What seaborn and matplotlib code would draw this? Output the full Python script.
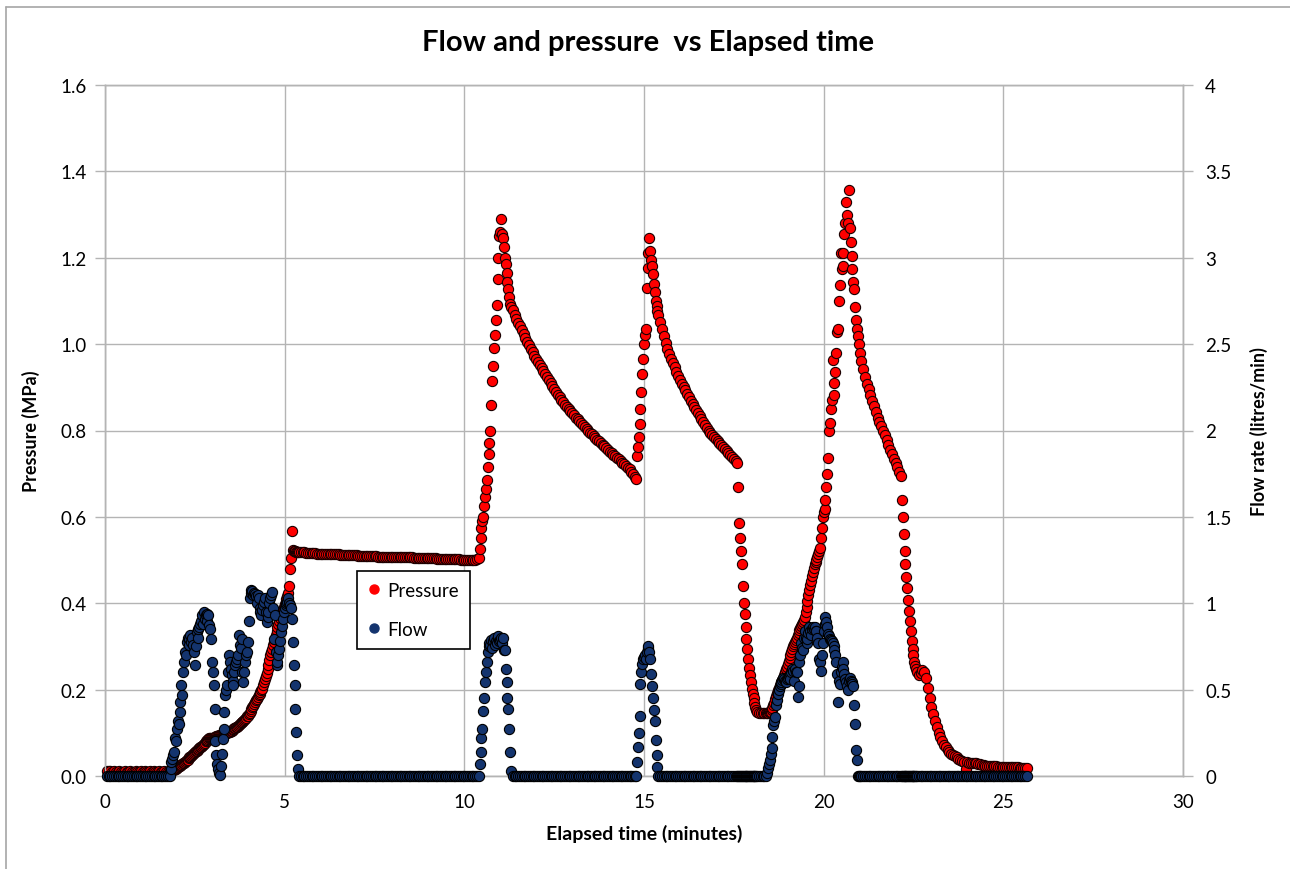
import matplotlib
matplotlib.use("Agg")
import pandas as pd
import matplotlib.pyplot as plt
import seaborn as sns
from matplotlib.lines import Line2D

# Elapsed time (minutes) - shared by both series
time_min = [
    0.05, 0.1, 0.15, 0.2, 0.25, 0.3, 0.35, 0.4, 0.45, 0.5, 0.55, 0.6, 0.65, 0.7, 0.75, 0.8, 0.85, 0.9, 0.95, 1.0,
    1.05, 1.1, 1.15, 1.2, 1.25, 1.3, 1.35, 1.4, 1.45, 1.5, 1.55, 1.6, 1.65, 1.7, 1.75, 1.8,
    1.825, 1.85, 1.875, 1.9, 1.925, 1.95, 1.975, 2.0,
    2.025, 2.05, 2.075, 2.1, 2.125, 2.15, 2.175, 2.2,
    2.225, 2.25, 2.275, 2.3, 2.325, 2.35, 2.375, 2.4,
    2.425, 2.45, 2.475, 2.5, 2.525, 2.55, 2.575, 2.6,
    2.625, 2.65, 2.675, 2.7, 2.725, 2.75, 2.775, 2.8,
    2.825, 2.85, 2.875, 2.9, 2.925, 2.95, 2.975, 3.0,
    3.025, 3.05, 3.075, 3.1, 3.125, 3.15, 3.175, 3.2,
    3.225, 3.25, 3.275, 3.3, 3.325, 3.35, 3.375, 3.4,
    3.425, 3.45, 3.475, 3.5, 3.525, 3.55, 3.575, 3.6,
    3.625, 3.65, 3.675, 3.7, 3.725, 3.75, 3.775, 3.8,
    3.825, 3.85, 3.875, 3.9, 3.925, 3.95, 3.975, 4.0,
    4.025, 4.05, 4.075, 4.1, 4.125, 4.15, 4.175, 4.2,
    4.225, 4.25, 4.275, 4.3, 4.325, 4.35, 4.375, 4.4,
    4.425, 4.45, 4.475, 4.5, 4.525, 4.55, 4.575, 4.6,
    4.625, 4.65, 4.675, 4.7, 4.725, 4.75, 4.775, 4.8,
    4.825, 4.85, 4.875, 4.9, 4.925, 4.95, 4.975, 5.0,
    5.025, 5.05, 5.075, 5.1, 5.125, 5.15, 5.175, 5.2,
    5.225, 5.25, 5.275, 5.3, 5.325, 5.35, 5.375, 5.4,
    5.45, 5.5, 5.55, 5.6, 5.65, 5.7, 5.75, 5.8, 5.85, 5.9, 5.95,
    6.0, 6.05, 6.1, 6.15, 6.2, 6.25, 6.3, 6.35, 6.4, 6.45, 6.5, 6.55, 6.6, 6.65, 6.7, 6.75, 6.8, 6.85, 6.9, 6.95,
    7.0, 7.05, 7.1, 7.15, 7.2, 7.25, 7.3, 7.35, 7.4, 7.45, 7.5, 7.55, 7.6, 7.65, 7.7, 7.75, 7.8, 7.85, 7.9, 7.95,
    8.0, 8.05, 8.1, 8.15, 8.2, 8.25, 8.3, 8.35, 8.4, 8.45, 8.5, 8.55, 8.6, 8.65, 8.7, 8.75, 8.8, 8.85, 8.9, 8.95,
    9.0, 9.05, 9.1, 9.15, 9.2, 9.25, 9.3, 9.35, 9.4, 9.45, 9.5, 9.55, 9.6, 9.65, 9.7, 9.75, 9.8, 9.85, 9.9, 9.95,
    10.0, 10.05, 10.1, 10.15, 10.2, 10.25, 10.3, 10.35, 10.4,
    10.425, 10.45, 10.475, 10.5, 10.525, 10.55, 10.575, 10.6,
    10.625, 10.65, 10.675, 10.7, 10.725, 10.75, 10.775, 10.8,
    10.825, 10.85, 10.875, 10.9, 10.925, 10.95, 10.975, 11.0,
    11.025, 11.05, 11.075, 11.1, 11.125, 11.15, 11.175, 11.2,
    11.225, 11.25, 11.275, 11.3,
    11.35, 11.4, 11.45, 11.5, 11.55, 11.6, 11.65, 11.7, 11.75, 11.8, 11.85, 11.9, 11.95, 12.0,
    12.05, 12.1, 12.15, 12.2, 12.25, 12.3, 12.35, 12.4, 12.45, 12.5, 12.55, 12.6, 12.65, 12.7, 12.75, 12.8, 12.85, 12.9, 12.95, 13.0,
    13.05, 13.1, 13.15, 13.2, 13.25, 13.3, 13.35, 13.4, 13.45, 13.5, 13.55, 13.6, 13.65, 13.7, 13.75, 13.8, 13.85, 13.9, 13.95, 14.0,
    14.05, 14.1, 14.15, 14.2, 14.25, 14.3, 14.35, 14.4, 14.45, 14.5, 14.55, 14.6, 14.65, 14.7, 14.75,
    14.775, 14.8, 14.825, 14.85, 14.875, 14.9, 14.925, 14.95,
    14.975, 15.0, 15.025, 15.05, 15.075, 15.1, 15.125, 15.15,
    15.175, 15.2, 15.225, 15.25, 15.275, 15.3, 15.325, 15.35,
    15.375, 15.4,
    15.45, 15.5, 15.55, 15.6, 15.65, 15.7, 15.75, 15.8, 15.85, 15.9, 15.95, 16.0,
    16.05, 16.1, 16.15, 16.2, 16.25, 16.3, 16.35, 16.4, 16.45, 16.5, 16.55, 16.6, 16.65, 16.7, 16.75, 16.8, 16.85, 16.9, 16.95, 17.0,
    17.05, 17.1, 17.15, 17.2, 17.25, 17.3, 17.35, 17.4, 17.45, 17.5, 17.55, 17.6,
    17.625, 17.65, 17.675, 17.7, 17.725, 17.75, 17.775, 17.8,
    17.825, 17.85, 17.875, 17.9, 17.925, 17.95, 17.975, 18.0,
    18.025, 18.05, 18.075, 18.1, 18.125, 18.15,
    18.2, 18.25, 18.3, 18.35, 18.4,
    18.425, 18.45, 18.475, 18.5, 18.525, 18.55, 18.575, 18.6,
    18.625, 18.65, 18.675, 18.7, 18.725, 18.75, 18.775, 18.8,
    18.825, 18.85, 18.875, 18.9, 18.925, 18.95, 18.975, 19.0,
    19.025, 19.05, 19.075, 19.1, 19.125, 19.15, 19.175, 19.2,
    19.225, 19.25, 19.275, 19.3, 19.325, 19.35, 19.375, 19.4,
    19.425, 19.45, 19.475, 19.5, 19.525, 19.55, 19.575, 19.6,
    19.625, 19.65, 19.675, 19.7, 19.725, 19.75, 19.775, 19.8,
    19.825, 19.85, 19.875, 19.9, 19.925, 19.95, 19.975, 20.0,
    20.025, 20.05, 20.075, 20.1, 20.125, 20.15, 20.175, 20.2,
    20.225, 20.25, 20.275, 20.3, 20.325, 20.35, 20.375, 20.4,
    20.425, 20.45, 20.475, 20.5, 20.525, 20.55, 20.575, 20.6,
    20.625, 20.65, 20.675, 20.7, 20.725, 20.75, 20.775, 20.8,
    20.825, 20.85, 20.875, 20.9, 20.925, 20.95, 20.975, 21.0,
    21.05, 21.1, 21.15, 21.2, 21.25, 21.3, 21.35, 21.4, 21.45, 21.5, 21.55, 21.6, 21.65, 21.7, 21.75, 21.8, 21.85, 21.9, 21.95, 22.0,
    22.05, 22.1, 22.15,
    22.175, 22.2, 22.225, 22.25, 22.275, 22.3, 22.325, 22.35,
    22.375, 22.4, 22.425, 22.45, 22.475, 22.5, 22.525, 22.55,
    22.575, 22.6,
    22.65, 22.7, 22.75, 22.8, 22.85, 22.9, 22.95, 23.0,
    23.05, 23.1, 23.15, 23.2, 23.25, 23.3, 23.35, 23.4, 23.45, 23.5, 23.55, 23.6, 23.65, 23.7, 23.75, 23.8, 23.85, 23.9, 23.95, 24.0,
    24.05, 24.1, 24.15, 24.2, 24.25, 24.3, 24.35, 24.4, 24.45, 24.5, 24.55, 24.6, 24.65, 24.7, 24.75, 24.8, 24.85, 24.9, 24.95, 25.0,
    25.05, 25.1, 25.15, 25.2, 25.25, 25.3, 25.35, 25.4, 25.45, 25.5, 25.55, 25.6, 25.65,
]

# Pressure (MPa), left axis
pressure_mpa = [
    0.012, 0.011, 0.011, 0.010, 0.011, 0.010, 0.010, 0.011, 0.010, 0.010, 0.011, 0.010, 0.010, 0.011, 0.010, 0.010, 0.011, 0.010, 0.010, 0.011,
    0.010, 0.011, 0.010, 0.010, 0.011, 0.010, 0.011, 0.010, 0.010, 0.011, 0.010, 0.010, 0.011, 0.010, 0.010, 0.011,
    0.011, 0.012, 0.013, 0.014, 0.015, 0.016, 0.017, 0.019,
    0.020, 0.022, 0.023, 0.025, 0.026, 0.028, 0.029, 0.031,
    0.032, 0.034, 0.036, 0.038, 0.041, 0.043, 0.045, 0.047,
    0.049, 0.051, 0.053, 0.055, 0.057, 0.059, 0.061, 0.063,
    0.065, 0.067, 0.068, 0.070, 0.072, 0.075, 0.077, 0.080,
    0.082, 0.084, 0.086, 0.087, 0.087, 0.088, 0.088, 0.089,
    0.089, 0.090, 0.091, 0.092, 0.092, 0.093, 0.094, 0.095,
    0.095, 0.096, 0.096, 0.097, 0.097, 0.098, 0.099, 0.100,
    0.101, 0.102, 0.103, 0.104, 0.105, 0.107, 0.108, 0.110,
    0.111, 0.113, 0.114, 0.116, 0.118, 0.120, 0.122, 0.124,
    0.126, 0.128, 0.130, 0.133, 0.135, 0.138, 0.140, 0.144,
    0.147, 0.151, 0.155, 0.159, 0.163, 0.167, 0.171, 0.175,
    0.179, 0.183, 0.187, 0.190, 0.194, 0.198, 0.202, 0.210,
    0.217, 0.224, 0.231, 0.238, 0.248, 0.258, 0.268, 0.280,
    0.288, 0.295, 0.303, 0.310, 0.317, 0.326, 0.335, 0.345,
    0.352, 0.360, 0.366, 0.372, 0.379, 0.385, 0.392, 0.398,
    0.404, 0.410, 0.416, 0.423, 0.440, 0.480, 0.505, 0.567,
    0.523, 0.521, 0.520, 0.520, 0.519, 0.519, 0.519, 0.519,
    0.518, 0.518, 0.518, 0.517, 0.517, 0.517, 0.516, 0.516, 0.516, 0.515, 0.515,
    0.515, 0.515, 0.514, 0.514, 0.514, 0.514, 0.513, 0.513, 0.513, 0.513, 0.513, 0.512, 0.512, 0.512, 0.512, 0.512, 0.511, 0.511, 0.511, 0.511,
    0.511, 0.510, 0.510, 0.510, 0.510, 0.510, 0.509, 0.509, 0.509, 0.509, 0.509, 0.509, 0.508, 0.508, 0.508, 0.508, 0.508, 0.508, 0.507, 0.507,
    0.507, 0.507, 0.507, 0.507, 0.507, 0.506, 0.506, 0.506, 0.506, 0.506, 0.506, 0.506, 0.505, 0.505, 0.505, 0.505, 0.505, 0.505, 0.505, 0.504,
    0.504, 0.504, 0.504, 0.504, 0.504, 0.503, 0.503, 0.503, 0.503, 0.503, 0.503, 0.502, 0.502, 0.502, 0.502, 0.502, 0.502, 0.502, 0.501, 0.501,
    0.501, 0.501, 0.501, 0.501, 0.501, 0.501, 0.501, 0.502, 0.505,
    0.525, 0.552, 0.575, 0.590, 0.600, 0.625, 0.645, 0.665,
    0.685, 0.715, 0.745, 0.770, 0.800, 0.860, 0.915, 0.950,
    0.990, 1.020, 1.055, 1.090, 1.150, 1.200, 1.250, 1.260,
    1.290, 1.255, 1.245, 1.225, 1.200, 1.185, 1.164, 1.145,
    1.127, 1.108, 1.092, 1.085,
    1.078, 1.068, 1.059, 1.050, 1.041, 1.032, 1.023, 1.015, 1.006, 0.998, 0.989, 0.981, 0.973, 0.965,
    0.958, 0.951, 0.944, 0.937, 0.930, 0.923, 0.916, 0.909, 0.902, 0.895, 0.889, 0.883, 0.877, 0.871, 0.866, 0.860, 0.855, 0.850, 0.845, 0.840,
    0.835, 0.830, 0.826, 0.821, 0.817, 0.812, 0.808, 0.803, 0.799, 0.795, 0.791, 0.787, 0.783, 0.779, 0.775, 0.771, 0.767, 0.763, 0.759, 0.755,
    0.751, 0.747, 0.744, 0.740, 0.736, 0.733, 0.729, 0.725, 0.722, 0.718, 0.714, 0.710, 0.705, 0.699, 0.692,
    0.688, 0.740, 0.762, 0.784, 0.814, 0.850, 0.890, 0.930,
    0.965, 1.000, 1.020, 1.035, 1.130, 1.176, 1.210, 1.245,
    1.215, 1.195, 1.180, 1.163, 1.140, 1.120, 1.100, 1.088,
    1.077, 1.067,
    1.052, 1.035, 1.018, 1.002, 0.988, 0.976, 0.966, 0.956, 0.946, 0.936, 0.926, 0.917,
    0.908, 0.900, 0.893, 0.885, 0.877, 0.869, 0.861, 0.854, 0.847, 0.840, 0.833, 0.826, 0.819, 0.812, 0.806, 0.800, 0.795, 0.790, 0.785, 0.780,
    0.776, 0.771, 0.767, 0.762, 0.758, 0.753, 0.748, 0.744, 0.739, 0.734, 0.729, 0.724,
    0.669, 0.586, 0.550, 0.520, 0.490, 0.440, 0.400, 0.375,
    0.345, 0.318, 0.295, 0.270, 0.250, 0.235, 0.218, 0.202,
    0.190, 0.180, 0.170, 0.160, 0.152, 0.148,
    0.147, 0.147, 0.146, 0.147, 0.147,
    0.147, 0.147, 0.148, 0.148, 0.149, 0.152, 0.158, 0.164,
    0.170, 0.178, 0.186, 0.192, 0.198, 0.204, 0.210, 0.214,
    0.218, 0.223, 0.227, 0.234, 0.240, 0.247, 0.253, 0.260,
    0.266, 0.273, 0.280, 0.287, 0.294, 0.300, 0.305, 0.310,
    0.315, 0.320, 0.326, 0.332, 0.338, 0.343, 0.348, 0.352,
    0.356, 0.362, 0.368, 0.380, 0.392, 0.405, 0.418, 0.430,
    0.442, 0.452, 0.462, 0.473, 0.482, 0.490, 0.495, 0.500,
    0.508, 0.514, 0.520, 0.527, 0.550, 0.575, 0.600, 0.612,
    0.618, 0.640, 0.670, 0.700, 0.736, 0.800, 0.818, 0.850,
    0.870, 0.964, 0.882, 0.910, 0.936, 0.980, 1.027, 1.036,
    1.100, 1.136, 1.210, 1.173, 1.180, 1.210, 1.255, 1.280,
    1.330, 1.300, 1.280, 1.356, 1.270, 1.236, 1.205, 1.173,
    1.145, 1.127, 1.086, 1.055, 1.036, 1.018, 1.000, 0.980,
    0.960, 0.943, 0.925, 0.908, 0.895, 0.882, 0.869, 0.856, 0.842, 0.830, 0.820, 0.810, 0.800, 0.789, 0.778, 0.766, 0.755, 0.745, 0.735, 0.724,
    0.715, 0.705, 0.695,
    0.640, 0.600, 0.560, 0.520, 0.490, 0.460, 0.436, 0.408,
    0.381, 0.358, 0.335, 0.312, 0.295, 0.280, 0.265, 0.255,
    0.248, 0.240,
    0.234, 0.238, 0.246, 0.240, 0.226, 0.203, 0.180, 0.160,
    0.143, 0.127, 0.113, 0.100, 0.090, 0.080, 0.072, 0.066, 0.061, 0.056, 0.052, 0.049, 0.046, 0.043, 0.040, 0.037, 0.034, 0.033, 0.017, 0.032,
    0.031, 0.030, 0.030, 0.029, 0.029, 0.028, 0.027, 0.026, 0.025, 0.024, 0.024, 0.023, 0.023, 0.022, 0.022, 0.022, 0.021, 0.021, 0.021, 0.021,
    0.021, 0.020, 0.020, 0.020, 0.020, 0.020, 0.020, 0.020, 0.019, 0.019, 0.019, 0.019, 0.019,
]

# Flow rate (litres/min), right axis
flow_lpm = [
    0, 0, 0, 0, 0, 0, 0, 0, 0, 0, 0, 0, 0, 0, 0, 0, 0, 0, 0, 0,
    0, 0, 0, 0, 0, 0, 0, 0, 0, 0, 0, 0, 0, 0, 0, 0,
    0.04, 0.08, 0.10, 0.12, 0.14, 0.22, 0.20, 0.27,
    0.32, 0.30, 0.37, 0.43, 0.525, 0.47, 0.60, 0.66,
    0.72, 0.70, 0.776, 0.80, 0.795, 0.76, 0.815, 0.776,
    0.80, 0.757, 0.72, 0.64, 0.75, 0.834, 0.80, 0.853,
    0.86, 0.882, 0.90, 0.93, 0.88, 0.95, 0.91, 0.93,
    0.94, 0.90, 0.93, 0.873, 0.85, 0.795, 0.66, 0.60,
    0.525, 0.39, 0.20, 0.12, 0.07, 0.04, 0.02, 0.004,
    0.06, 0.13, 0.216, 0.274, 0.37, 0.467, 0.50, 0.525,
    0.60, 0.70, 0.66, 0.62, 0.583, 0.55, 0.525, 0.60,
    0.64, 0.66, 0.68, 0.70, 0.815, 0.757, 0.74, 0.795,
    0.60, 0.544, 0.60, 0.66, 0.70, 0.72, 0.776, 0.90,
    1.03, 1.06, 1.075, 1.07, 1.05, 1.06, 1.056, 1.04,
    1.00, 1.05, 1.03, 0.97, 0.95, 0.93, 0.96, 0.99,
    1.01, 1.03, 0.95, 0.892, 0.92, 0.95, 1.00, 1.03,
    1.05, 1.066, 0.97, 0.795, 0.93, 0.72, 0.64, 0.66,
    0.70, 0.737, 0.78, 0.834, 0.87, 0.91, 0.95, 0.97,
    0.99, 1.00, 1.01, 1.03, 1.00, 0.99, 0.97, 0.91,
    0.776, 0.64, 0.525, 0.39, 0.255, 0.12, 0.04, 0,
    0, 0, 0, 0, 0, 0, 0, 0, 0, 0, 0,
    0, 0, 0, 0, 0, 0, 0, 0, 0, 0, 0, 0, 0, 0, 0, 0, 0, 0, 0, 0,
    0, 0, 0, 0, 0, 0, 0, 0, 0, 0, 0, 0, 0, 0, 0, 0, 0, 0, 0, 0,
    0, 0, 0, 0, 0, 0, 0, 0, 0, 0, 0, 0, 0, 0, 0, 0, 0, 0, 0, 0,
    0, 0, 0, 0, 0, 0, 0, 0, 0, 0, 0, 0, 0, 0, 0, 0, 0, 0, 0, 0,
    0, 0, 0, 0, 0, 0, 0, 0, 0,
    0.07, 0.14, 0.22, 0.27, 0.375, 0.45, 0.545, 0.60,
    0.66, 0.72, 0.75, 0.77, 0.76, 0.79, 0.74, 0.78,
    0.80, 0.76, 0.78, 0.77, 0.80, 0.81, 0.78, 0.79,
    0.80, 0.77, 0.80, 0.73, 0.73, 0.62, 0.545, 0.45,
    0.39, 0.27, 0.14, 0.03,
    0, 0, 0, 0, 0, 0, 0, 0, 0, 0, 0, 0, 0, 0,
    0, 0, 0, 0, 0, 0, 0, 0, 0, 0, 0, 0, 0, 0, 0, 0, 0, 0, 0, 0,
    0, 0, 0, 0, 0, 0, 0, 0, 0, 0, 0, 0, 0, 0, 0, 0, 0, 0, 0, 0,
    0, 0, 0, 0, 0, 0, 0, 0, 0, 0, 0, 0, 0, 0, 0,
    0, 0.08, 0.17, 0.25, 0.35, 0.53, 0.60, 0.65,
    0.68, 0.69, 0.70, 0.68, 0.72, 0.74, 0.75, 0.72,
    0.68, 0.59, 0.52, 0.45, 0.38, 0.32, 0.21, 0.12,
    0.05, 0,
    0, 0, 0, 0, 0, 0, 0, 0, 0, 0, 0, 0,
    0, 0, 0, 0, 0, 0, 0, 0, 0, 0, 0, 0, 0, 0, 0, 0, 0, 0, 0, 0,
    0, 0, 0, 0, 0, 0, 0, 0, 0, 0, 0, 0,
    0, 0, 0, 0, 0, 0, 0, 0,
    0, 0, 0, 0, 0, 0, 0, 0,
    0, 0, 0, 0, 0, 0,
    0, 0, 0, 0, 0,
    0.02, 0.045, 0.07, 0.09, 0.13, 0.16, 0.227, 0.295,
    0.32, 0.34, 0.41, 0.44, 0.477, 0.50, 0.52, 0.535,
    0.545, 0.555, 0.568, 0.56, 0.55, 0.545, 0.56, 0.57,
    0.58, 0.59, 0.56, 0.60, 0.62, 0.61, 0.55, 0.62,
    0.60, 0.60, 0.455, 0.52, 0.66, 0.70, 0.77, 0.74,
    0.727, 0.80, 0.84, 0.80, 0.77, 0.795, 0.83, 0.864,
    0.84, 0.818, 0.85, 0.864, 0.85, 0.86, 0.84, 0.84,
    0.80, 0.77, 0.68, 0.66, 0.61, 0.70, 0.77, 0.84,
    0.88, 0.92, 0.89, 0.864, 0.82, 0.81, 0.795, 0.79,
    0.78, 0.77, 0.75, 0.727, 0.70, 0.66, 0.59, 0.43,
    0.55, 0.534, 0.60, 0.63, 0.66, 0.62, 0.59, 0.56,
    0.545, 0.52, 0.50, 0.55, 0.568, 0.55, 0.545, 0.53,
    0.52, 0.41, 0.30, 0.148, 0.09, 0, 0, 0,
    0, 0, 0, 0, 0, 0, 0, 0, 0, 0, 0, 0, 0, 0, 0, 0, 0, 0, 0, 0,
    0, 0, 0,
    0, 0, 0, 0, 0, 0, 0, 0,
    0, 0, 0, 0, 0, 0, 0, 0,
    0, 0,
    0, 0, 0, 0, 0, 0, 0, 0,
    0, 0, 0, 0, 0, 0, 0, 0, 0, 0, 0, 0, 0, 0, 0, 0, 0, 0, 0, 0,
    0, 0, 0, 0, 0, 0, 0, 0, 0, 0, 0, 0, 0, 0, 0, 0, 0, 0, 0, 0,
    0, 0, 0, 0, 0, 0, 0, 0, 0, 0, 0, 0, 0,
]

assert len(time_min) == len(pressure_mpa) == len(flow_lpm), (len(time_min), len(pressure_mpa), len(flow_lpm))

x_ticks = [0, 5, 10, 15, 20, 25, 30]
pressure_ticks = [0.0, 0.2, 0.4, 0.6, 0.8, 1.0, 1.2, 1.4, 1.6]
pressure_tick_labels = ['0.0', '0.2', '0.4', '0.6', '0.8', '1.0', '1.2', '1.4', '1.6']
flow_ticks = [0, 0.5, 1, 1.5, 2, 2.5, 3, 3.5, 4]
flow_tick_labels = ['0', '0.5', '1', '1.5', '2', '2.5', '3', '3.5', '4']

df = pd.DataFrame({'time': time_min, 'pressure': pressure_mpa, 'flow': flow_lpm})

sns.set_style('white')
plt.rcParams['font.family'] = ['Lato', 'DejaVu Sans']
plt.rcParams['text.color'] = 'black'
plt.rcParams['axes.labelcolor'] = 'black'

RED = '#ff0000'
NAVY = '#14346e'
GRID = '#b4b4b4'

fig = plt.figure(figsize=(12.9, 8.7), dpi=100)
ax = fig.add_axes([105 / 1290, 1 - 777 / 870, 1078 / 1290, 691 / 870])
ax2 = ax.twinx()

sns.scatterplot(data=df, x='time', y='pressure', ax=ax, color=RED, edgecolor='#1a0000',
                linewidth=0.8, s=54, legend=False, zorder=3, clip_on=False)
sns.scatterplot(data=df, x='time', y='flow', ax=ax2, color=NAVY, edgecolor='#000000',
                linewidth=0.8, s=54, legend=False, zorder=3, clip_on=False)

# axes limits and ticks
ax.set_xlim(0, 30)
ax.set_ylim(0, 1.6)
ax2.set_ylim(0, 4)
ax.set_xticks(x_ticks)
ax.set_xticklabels([str(v) for v in x_ticks])
ax.set_yticks(pressure_ticks)
ax.set_yticklabels(pressure_tick_labels)
ax2.set_yticks(flow_ticks)
ax2.set_yticklabels(flow_tick_labels)

ax.grid(True, color=GRID, linewidth=1.0)
ax.set_axisbelow(True)
ax2.grid(False)

for a in (ax, ax2):
    for sp in a.spines.values():
        sp.set_color(GRID)
        sp.set_linewidth(1.0)
    a.tick_params(axis='both', direction='out', length=7, width=1.0, color=GRID,
                  labelsize=13.5, labelcolor='black')
ax.tick_params(axis='y', pad=6)
ax.tick_params(axis='x', pad=5)
ax2.tick_params(axis='y', pad=9)

ax.set_xlabel('Elapsed time (minutes)', fontsize=14, fontweight='bold', color='black')
ax.set_ylabel('Pressure (MPa)', fontsize=13, fontweight='bold', color='black')
ax2.set_ylabel('Flow rate (litres/min)', fontsize=13, fontweight='bold', color='black')
ax.xaxis.set_label_coords(0.5, -0.07)
ax.yaxis.set_label_coords(-0.060, 0.5)
ax2.yaxis.set_label_coords(1.062, 0.5)

fig.text(0.502, 1 - 43 / 870, 'Flow and pressure  vs Elapsed time', ha='center', va='center',
         fontsize=21, fontweight='bold', color='black')

# legend
handles = [
    Line2D([], [], marker='o', linestyle='', markerfacecolor=RED, markeredgecolor=RED,
           markersize=6.5, label='Pressure'),
    Line2D([], [], marker='o', linestyle='', markerfacecolor=NAVY, markeredgecolor=NAVY,
           markersize=6.5, label='Flow'),
]
leg = ax2.legend(handles=handles, loc='lower left', bbox_to_anchor=(0.234, 0.184),
                 frameon=True, fancybox=False, fontsize=13.5, handlelength=0.6,
                 handletextpad=0.4, borderpad=0.6, labelspacing=1.15, borderaxespad=0)
leg.get_frame().set_edgecolor('black')
leg.get_frame().set_linewidth(1.2)
leg.get_frame().set_alpha(1)
for txt in leg.get_texts():
    txt.set_color('black')

# outer frame of the chart area
fig.add_artist(Line2D([6 / 1290, 6 / 1290], [0, 1 - 8 / 870], transform=fig.transFigure,
                      color='#a6a6a6', linewidth=1.2))
fig.add_artist(Line2D([6 / 1290, 1], [1 - 8 / 870, 1 - 8 / 870], transform=fig.transFigure,
                      color='#a6a6a6', linewidth=1.2))

fig.savefig('out.png', dpi=100, facecolor='white')
plt.close(fig)
